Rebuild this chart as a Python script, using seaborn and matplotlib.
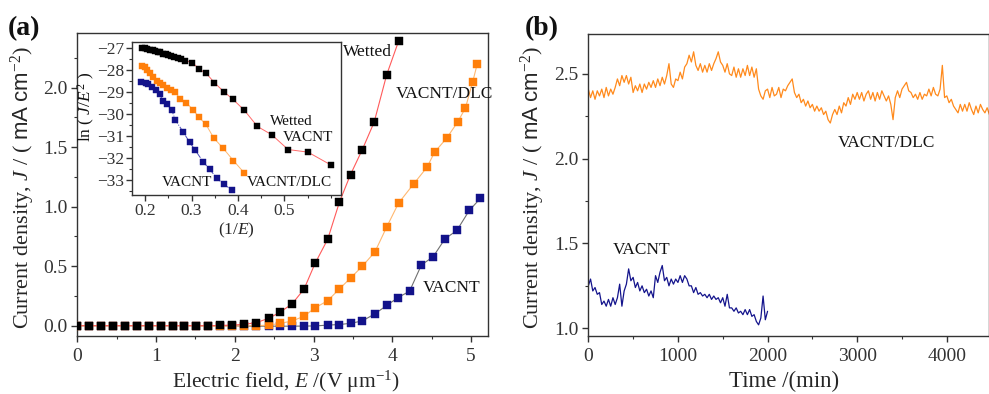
import numpy as np
import matplotlib
matplotlib.use("Agg")
import matplotlib.pyplot as plt
import seaborn as sns
from matplotlib.ticker import MultipleLocator, FixedLocator

sns.set_theme(style="ticks")
plt.rcParams['font.family'] = ['Liberation Serif', 'DejaVu Serif']
plt.rcParams['mathtext.fontset'] = 'custom'
plt.rcParams['mathtext.rm'] = 'Liberation Serif'
plt.rcParams['mathtext.it'] = 'Liberation Serif:italic'
plt.rcParams['mathtext.sf'] = 'Liberation Sans'
plt.rcParams['axes.edgecolor'] = '#333333'
plt.rcParams['xtick.color'] = '#333333'
plt.rcParams['ytick.color'] = '#333333'
plt.rcParams['text.color'] = '#111111'

# ---------------- data: panel (a) main J-E curves ----------------
E_wet = [0.00, 0.15, 0.30, 0.45, 0.60, 0.76, 0.91, 1.06, 1.21, 1.36, 1.51, 1.66, 1.81, 1.96,
         2.12, 2.27, 2.43, 2.58, 2.73, 2.88, 3.02, 3.18, 3.33, 3.47, 3.62, 3.77, 3.93, 4.08]
J_wet = [0, 0, 0, 0, 0, 0, 0, 0, 0, 0, 0, 0, 0.002, 0.005,
         0.012, 0.025, 0.062, 0.115, 0.185, 0.308, 0.524, 0.726, 1.04, 1.27, 1.48, 1.71, 2.11, 2.39]

E_dlc = [0.00, 0.15, 0.30, 0.45, 0.60, 0.76, 0.91, 1.06, 1.21, 1.36, 1.51, 1.66, 1.81, 1.96,
         2.12, 2.27, 2.43, 2.58, 2.73, 2.88, 3.02, 3.18, 3.33, 3.47, 3.62, 3.78, 3.93, 4.08,
         4.27, 4.44, 4.54, 4.69, 4.83, 4.93, 5.02, 5.08]
J_dlc = [0, 0, 0, 0, 0, 0, 0, 0, 0, 0, 0, -0.004, -0.004, -0.003, -0.002, 0.0,
         0.005, 0.02, 0.04, 0.08, 0.15, 0.21, 0.31, 0.40, 0.50, 0.62, 0.83, 1.03,
         1.19, 1.33, 1.46, 1.575, 1.71, 1.83, 2.045, 2.20]

E_va = [0.00, 0.15, 0.30, 0.45, 0.60, 0.76, 0.91, 1.06, 1.21, 1.36, 1.51, 1.66, 1.81, 1.96,
        2.12, 2.27, 2.43, 2.58, 2.73, 2.88, 3.02, 3.18, 3.33, 3.47, 3.62, 3.78, 3.93, 4.07,
        4.22, 4.37, 4.52, 4.67, 4.82, 4.98, 5.12]
J_va = [0, 0, 0, 0, 0, 0, 0, 0, 0, 0, 0, 0, 0, 0, -0.004, -0.004, -0.004, -0.004, -0.004, -0.003, -0.002,
        0.005, 0.01, 0.02, 0.04, 0.10, 0.17, 0.235, 0.29, 0.51, 0.58, 0.73, 0.80, 0.97, 1.07]

# ---------------- data: inset F-N plot ----------------
inv_wet = [0.193, 0.199, 0.204, 0.210, 0.216, 0.222, 0.227, 0.233, 0.239, 0.245, 0.250, 0.256, 0.263, 0.270,
           0.278, 0.286, 0.302, 0.316, 0.332, 0.349, 0.369, 0.389, 0.414, 0.442, 0.473, 0.508, 0.551, 0.600]
ln_wet = [-27.01, -27.03, -27.06, -27.09, -27.12, -27.15, -27.18, -27.21, -27.26, -27.30, -27.33, -27.36,
          -27.42, -27.48, -27.53, -27.59, -27.67, -27.97, -28.17, -28.58, -28.99, -29.34, -29.85, -30.58,
          -30.96, -31.63, -31.75, -32.33]

inv_dlc = [0.194, 0.199, 0.204, 0.210, 0.217, 0.225, 0.232, 0.239, 0.247, 0.256, 0.265, 0.276, 0.288,
           0.303, 0.315, 0.331, 0.348, 0.368, 0.390, 0.413]
ln_dlc = [-27.85, -27.89, -28.02, -28.17, -28.35, -28.50, -28.58, -28.68, -28.84, -28.94, -29.03, -29.34,
          -29.49, -29.81, -30.14, -30.49, -31.11, -31.57, -32.13, -32.68]

inv_va = [0.192, 0.202, 0.207, 0.214, 0.223, 0.231, 0.239, 0.247, 0.257, 0.265, 0.282, 0.296, 0.307,
          0.325, 0.339, 0.354, 0.369, 0.388]
ln_va = [-28.55, -28.58, -28.65, -28.78, -28.90, -29.10, -29.43, -29.56, -29.81, -30.29, -30.83, -31.31,
         -31.63, -32.19, -32.53, -32.92, -33.21, -33.48]

# ---------------- data: panel (b) stability (sampled every 25 min) ----------------
t_step = 25
J_dlc_t = [2.41, 2.36, 2.40, 2.35, 2.40, 2.37, 2.41, 2.36, 2.42, 2.37, 2.41, 2.38,
           2.42, 2.47, 2.43, 2.49, 2.45, 2.49, 2.44, 2.48, 2.39, 2.43, 2.40, 2.44,
           2.39, 2.44, 2.41, 2.45, 2.42, 2.46, 2.42, 2.47, 2.43, 2.48, 2.44, 2.49,
           2.56, 2.44, 2.42, 2.47, 2.46, 2.51, 2.47, 2.54, 2.56, 2.61, 2.57, 2.63,
           2.55, 2.52, 2.56, 2.51, 2.55, 2.51, 2.56, 2.52, 2.56, 2.59, 2.63, 2.57,
           2.55, 2.51, 2.56, 2.50, 2.49, 2.54, 2.48, 2.53, 2.48, 2.53, 2.49, 2.55,
           2.49, 2.54, 2.48, 2.53, 2.41, 2.37, 2.35, 2.40, 2.41, 2.36, 2.42, 2.37,
           2.38, 2.42, 2.36, 2.41, 2.40, 2.43, 2.45, 2.47, 2.39, 2.36, 2.38, 2.33,
           2.35, 2.31, 2.34, 2.30, 2.32, 2.28, 2.31, 2.28, 2.30, 2.26, 2.28, 2.23,
           2.21, 2.26, 2.29, 2.26, 2.31, 2.27, 2.33, 2.31, 2.36, 2.32, 2.38, 2.35,
           2.39, 2.35, 2.39, 2.34, 2.38, 2.40, 2.35, 2.39, 2.34, 2.39, 2.35, 2.40,
           2.37, 2.34, 2.37, 2.32, 2.23, 2.36, 2.40, 2.36, 2.41, 2.43, 2.45, 2.40,
           2.39, 2.36, 2.38, 2.35, 2.39, 2.35, 2.38, 2.37, 2.41, 2.37, 2.42, 2.38,
           2.37, 2.41, 2.55, 2.36, 2.37, 2.33, 2.35, 2.31, 2.29, 2.27, 2.32, 2.28,
           2.32, 2.28, 2.33, 2.29, 2.26, 2.31, 2.27, 2.32, 2.29, 2.27, 2.30, 2.26]
J_va_t = [1.25, 1.29, 1.22, 1.24, 1.20, 1.21, 1.14, 1.16, 1.13, 1.17, 1.13, 1.18,
          1.14, 1.18, 1.26, 1.13, 1.22, 1.26, 1.35, 1.28, 1.30, 1.24, 1.27, 1.22,
          1.25, 1.21, 1.23, 1.19, 1.22, 1.18, 1.31, 1.27, 1.33, 1.37, 1.28, 1.30,
          1.25, 1.29, 1.26, 1.29, 1.27, 1.31, 1.27, 1.31, 1.29, 1.25, 1.25, 1.21,
          1.24, 1.20, 1.21, 1.19, 1.20, 1.18, 1.20, 1.17, 1.19, 1.17, 1.18, 1.15,
          1.18, 1.13, 1.20, 1.12, 1.12, 1.10, 1.12, 1.09, 1.10, 1.08, 1.11, 1.08,
          1.11, 1.07, 1.08, 1.04, 1.02, 1.06, 1.19, 1.05, 1.10]
t_dlc = [i * t_step for i in range(len(J_dlc_t))]
t_va = [i * t_step for i in range(len(J_va_t))]

# ---------------- figure ----------------
W, H = 989, 394
fig = plt.figure(figsize=(W / 100, H / 100), dpi=100)
fig.patch.set_facecolor('white')

def px(l, t, r, b):
    return [l / W, (H - b) / H, (r - l) / W, (b - t) / H]

ax_a = fig.add_axes(px(77.3, 33.3, 488.3, 335.7))
ax_b = fig.add_axes(px(588.3, 34, 988.5, 335.7))
ax_i = fig.add_axes(px(131.7, 42.3, 340.5, 195))

BLACK = '#000000'
ORANGE = '#ff7f0a'
NAVY = '#12128a'

def series(ax, x, y, lc, mc, ms, lw=0.8, ls='-', z=2):
    sns.lineplot(x=x, y=y, ax=ax, color=lc, linewidth=lw, linestyle=ls, marker='s',
                 markersize=ms, markerfacecolor=mc, markeredgecolor=mc, markeredgewidth=0.3,
                 estimator=None, sort=False, zorder=z, legend=False)

series(ax_a, E_va, J_va, '#707070', NAVY, 5.2, z=2)
series(ax_a, E_dlc, J_dlc, '#ffb870', ORANGE, 5.2, z=3)
series(ax_a, E_wet, J_wet, '#ff5a5a', BLACK, 5.2, z=4)

ax_a.set_xlim(0, 5.22)
ax_a.set_ylim(-0.084, 2.457)
ax_a.xaxis.set_major_locator(MultipleLocator(1))
ax_a.xaxis.set_minor_locator(MultipleLocator(0.5))
ax_a.set_yticks([0.0, 0.5, 1.0, 1.5, 2.0])
ax_a.yaxis.set_minor_locator(MultipleLocator(0.25))
ax_a.set_yticklabels(['0.0', '0.5', '1.0', '1.5', '2.0'])

ax_a.text(3.38, 2.30, 'Wetted', fontsize=12.5, ha='left', va='center')
ax_a.text(4.04, 1.946, 'VACNT/DLC', fontsize=12.5, ha='left', va='center')
ax_a.text(4.39, 0.317, 'VACNT', fontsize=12.5, ha='left', va='center')

ax_a.set_xlabel(r'Electric field, $\mathit{E}$ /(V μm$^{-1}$)', fontsize=15.5)
ax_a.set_ylabel(r'Current density, $\mathit{J}$ / ( $\mathsf{mA\ cm}^{-2}$)', fontsize=16)

# inset
series(ax_i, inv_wet, ln_wet, '#ff6a6a', BLACK, 3.8, lw=0.7, z=4)
series(ax_i, inv_dlc, ln_dlc, '#ffb870', ORANGE, 3.8, lw=0.7, z=3)
series(ax_i, inv_va, ln_va, '#4a4ab8', NAVY, 3.8, lw=0.7, ls='-.', z=2)
ax_i.set_xlim(0.171, 0.621)
ax_i.set_ylim(-33.70, -26.75)
ax_i.set_xticks([0.2, 0.3, 0.4, 0.5])
ax_i.set_xticklabels(['0.2', '0.3', '0.4', '0.5'])
ax_i.xaxis.set_minor_locator(FixedLocator([0.25, 0.35, 0.45, 0.55, 0.6]))
ax_i.set_yticks([-27, -28, -29, -30, -31, -32, -33])
ax_i.set_yticklabels(['\u221227', '\u221228', '\u221229', '\u221230', '\u221231', '\u221232', '\u221233'])
ax_i.yaxis.set_minor_locator(MultipleLocator(0.5))
ax_i.text(0.468, -30.34, 'Wetted', fontsize=11, ha='left', va='center')
ax_i.text(0.496, -31.07, 'VACNT', fontsize=11, ha='left', va='center')
ax_i.text(0.236, -33.12, 'VACNT', fontsize=11, ha='left', va='center')
ax_i.text(0.419, -33.12, 'VACNT/DLC', fontsize=11, ha='left', va='center')
ax_i.set_xlabel(r'(1/$\mathit{E}$)', fontsize=12.5, labelpad=1)
ax_i.set_ylabel('')
fig.text(86 / W, 1 - 107 / H, r'ln ( $\mathit{J/E}^{2}$ )', fontsize=12.5, rotation=90,
         ha='center', va='center')

# panel b
sns.lineplot(x=t_dlc, y=J_dlc_t, ax=ax_b, color='#ff8a1c', linewidth=0.9, estimator=None, sort=False)
sns.lineplot(x=t_va, y=J_va_t, ax=ax_b, color='#14148c', linewidth=0.9, estimator=None, sort=False)
ax_b.set_xlim(0, 4465)
ax_b.set_ylim(0.956, 2.735)
ax_b.set_xticks([0, 1000, 2000, 3000, 4000])
ax_b.set_xticklabels(['0', '1000', '2000', '3000', '4000'])
ax_b.xaxis.set_minor_locator(MultipleLocator(500))
ax_b.set_yticks([1.0, 1.5, 2.0, 2.5])
ax_b.set_yticklabels(['1.0', '1.5', '2.0', '2.5'])
ax_b.yaxis.set_minor_locator(MultipleLocator(0.25))
ax_b.text(2787, 2.094, 'VACNT/DLC', fontsize=12.5, ha='left', va='center')
ax_b.text(276, 1.459, 'VACNT', fontsize=12.5, ha='left', va='center')
ax_b.set_xlabel('Time /(min)', fontsize=16.5)
ax_b.set_ylabel(r'Current density, $\mathit{J}$ / ( $\mathsf{mA\ cm}^{-2}$)', fontsize=16)

for ax, fs in ((ax_a, 14), (ax_b, 14), (ax_i, 12.5)):
    for s in ax.spines.values():
        s.set_visible(True)
        s.set_linewidth(1.0)
        s.set_color('#333333')
    ax.tick_params(which='major', direction='out', length=4, width=1, labelsize=fs, pad=3)
    ax.tick_params(which='minor', direction='out', length=2.5, width=0.8)
    ax.set_facecolor('white')
    ax.grid(False)

ax_a.tick_params(axis='x', pad=5)
ax_b.tick_params(axis='x', pad=5)
ax_i.tick_params(axis='x', pad=2)
ax_i.tick_params(axis='y', pad=1.5)

ax_a.yaxis.set_label_coords(-0.098, 0.49)
ax_b.yaxis.set_label_coords(-0.104, 0.49)
ax_a.xaxis.set_label_coords(0.508, -0.108)
ax_b.xaxis.set_label_coords(0.49, -0.118)

fig.text(8 / W, 1 - 29 / H, '(a)', fontsize=20, fontweight='bold', ha='left', va='center')
fig.text(525 / W, 1 - 29 / H, '(b)', fontsize=20, fontweight='bold', ha='left', va='center')

fig.savefig('out.png', dpi=100, facecolor='white')
